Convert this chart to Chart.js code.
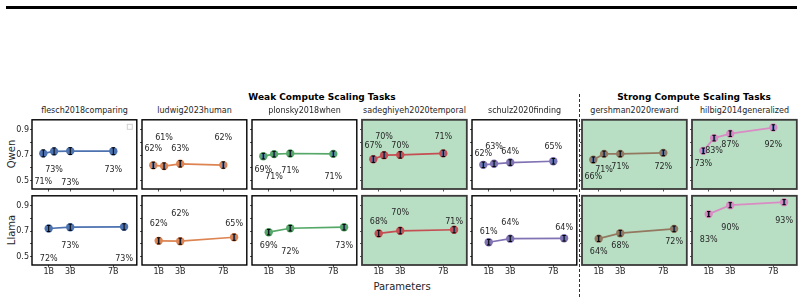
<!DOCTYPE html>
<html>
<head>
<meta charset="utf-8">
<script src="https://cdn.jsdelivr.net/npm/chart.js@4.4.0/dist/chart.umd.min.js"></script>
<style>
  body { margin: 0; background: #fff; font-family: 'DejaVu Sans', sans-serif; }
  #wrap { position: relative; width: 804px; height: 299px; overflow: hidden; background: #fff; }
  .txt { position: absolute; white-space: nowrap; color: #262626; transform: translate(-50%, -50%); line-height: 1; }
  canvas { position: absolute; }
</style>
</head>
<body>
<div id="wrap"></div>
<script>
// tasks shown left to right
const tasks = ['flesch2018comparing', 'ludwig2023human', 'plonsky2018when', 'sadeghiyeh2020temporal',
  'schulz2020finding', 'gershman2020reward', 'hilbig2014generalized'];
const highlighted = ['sadeghiyeh2020temporal', 'gershman2020reward', 'hilbig2014generalized'];
const models = ['Qwen', 'Llama'];

// model sizes (billions of parameters)
const qwenSizes = [0.5, 1.5, 3, 7];
const llamaSizes = [1, 3, 8];
const tickSizes = [1, 3, 7];
const tickLabels = ['1B', '3B', '7B'];
const yTicks = [0.5, 0.6, 0.7, 0.8, 0.9];

// scores per task
const qwenScores = [
  [0.714, 0.730, 0.732, 0.731],
  [0.620, 0.614, 0.632, 0.622],
  [0.692, 0.708, 0.713, 0.710],
  [0.668, 0.700, 0.702, 0.714],
  [0.624, 0.632, 0.642, 0.652],
  [0.664, 0.710, 0.710, 0.718],
  [0.734, 0.834, 0.869, 0.917],
];
const llamaScores = [
  [0.721, 0.731, 0.734],
  [0.624, 0.621, 0.652],
  [0.692, 0.723, 0.731],
  [0.682, 0.703, 0.711],
  [0.613, 0.641, 0.644],
  [0.641, 0.684, 0.718],
  [0.834, 0.904, 0.928],
];
const qwenErr = [0.027, 0.025, 0.022, 0.025, 0.022, 0.022, 0.022];
const llamaErr = [0.024, 0.024, 0.022, 0.024, 0.022, 0.022, 0.02];

// where the % labels sit relative to their point (px)
const qwenLabelDy = [
  [29, 18.6, 31.4, 19], [-16.7, -28, -15, -27.4], [14, 22.6, 17, 23], [-13.7, -18.7, -9, -16.3],
  [-11, -17, -11, -14.4], [17, 16, 12.7, 13.7], [13, 13, 11, 17],
];
const llamaLabelDy = [
  [30.3, 18.3, 32.3], [-16.6, -27.7, -13.3], [13.6, 24, 18.6], [-12, -18.3, -8.3],
  [-10.7, -16, -10.3], [13.4, 12.6, 13], [25.7, 22.3, 18.7],
];

const colors = ['#4c72b0', '#dd8452', '#55a868', '#c44e52', '#8172b3', '#937860', '#da8bc3'];
const textColor = '#262626';

const wrap = document.getElementById('wrap');

function addText(str, x, y, css) {
  const d = document.createElement('div');
  d.className = 'txt';
  d.textContent = str;
  d.style.left = x + 'px';
  d.style.top = y + 'px';
  Object.assign(d.style, css || {});
  wrap.appendChild(d);
}

// decorations
const bar = document.createElement('div');
Object.assign(bar.style, { position: 'absolute', left: '6px', top: '5.5px', width: '791px', height: '3.2px', background: '#000' });
wrap.appendChild(bar);

wrap.insertAdjacentHTML('beforeend',
  '<svg style="position:absolute;left:0;top:0" width="804" height="299">' +
  '<line x1="579.5" y1="94" x2="579.5" y2="297" stroke="#333" stroke-width="1" stroke-dasharray="3,2"/></svg>');

addText('Weak Compute Scaling Tasks', 322, 97, { fontSize: '9px', fontWeight: 'bold', color: '#000' });
addText('Strong Compute Scaling Tasks', 694, 97, { fontSize: '9px', fontWeight: 'bold', color: '#000' });
addText('Parameters', 402, 287, { fontSize: '10px' });
addText('Qwen', 12, 154, { fontSize: '10px', transform: 'translate(-50%, -50%) rotate(-90deg)' });
addText('Llama', 12, 230, { fontSize: '10px', transform: 'translate(-50%, -50%) rotate(-90deg)' });

const panelPlugin = {
  id: 'panel',
  beforeDraw(chart, args, opts) {
    const a = chart.chartArea, ctx = chart.ctx;
    if (opts.bg) {
      ctx.save();
      ctx.fillStyle = 'rgb(184, 223, 196)';
      ctx.fillRect(a.left, a.top, a.right - a.left, a.bottom - a.top);
      ctx.restore();
    }
  },
  afterDatasetsDraw(chart, args, opts) {
    const ctx = chart.ctx, xs = chart.scales.x, ys = chart.scales.y;
    const pts = chart.data.datasets[0].data;
    ctx.save();
    pts.forEach((p, i) => {
      const x = xs.getPixelForValue(p.x);
      const y = ys.getPixelForValue(p.y);
      const y1 = ys.getPixelForValue(p.y + opts.err);
      const y2 = ys.getPixelForValue(p.y - opts.err);
      ctx.strokeStyle = '#4c72b0';
      ctx.lineWidth = 2.4;
      ctx.beginPath(); ctx.moveTo(x, y - 2.8); ctx.lineTo(x, y + 2.8); ctx.stroke();
      ctx.strokeStyle = '#000';
      ctx.lineWidth = 1;
      ctx.beginPath();
      ctx.moveTo(x, y1); ctx.lineTo(x, y2);
      ctx.moveTo(x - 1.7, y1); ctx.lineTo(x + 1.7, y1);
      ctx.moveTo(x - 1.7, y2); ctx.lineTo(x + 1.7, y2);
      ctx.stroke();
    });
    ctx.font = '8px "DejaVu Sans"';
    ctx.fillStyle = textColor;
    ctx.textAlign = 'center';
    ctx.textBaseline = 'middle';
    pts.forEach((p, i) => {
      const x = xs.getPixelForValue(p.x);
      const y = ys.getPixelForValue(p.y);
      ctx.fillText(Math.round(p.y * 100) + '%', x, y + opts.dy[i]);
    });
    ctx.restore();
  },
  afterDraw(chart, args, opts) {
    const a = chart.chartArea, ctx = chart.ctx;
    ctx.save();
    if (opts.legendBox) {
      ctx.fillStyle = '#fff';
      ctx.strokeStyle = '#d0d0d0';
      ctx.lineWidth = 1;
      ctx.fillRect(a.right - 9.5, a.top + 4.5, 5, 5);
      ctx.strokeRect(a.right - 9.5, a.top + 4.5, 5, 5);
    }
    ctx.strokeStyle = opts.bg ? '#3a3a3a' : '#000';
    ctx.lineWidth = opts.bg ? 1.8 : 1.4;
    ctx.strokeRect(a.left, a.top, a.right - a.left, a.bottom - a.top);
    ctx.restore();
  }
};

const PW = 105, PH = 71, LEFT = 32, PAD = 4, BOTTOM = 16;
const rowTops = [118, 194];

models.forEach((model, r) => {
  const sizes = r === 0 ? qwenSizes : llamaSizes;
  const scores = r === 0 ? qwenScores : llamaScores;
  const errs = r === 0 ? qwenErr : llamaErr;
  const dys = r === 0 ? qwenLabelDy : llamaLabelDy;
  tasks.forEach((task, c) => {
    const px = 32 + c * 110;
    const py = rowTops[r];
    if (r === 0) addText(task, px + PW / 2, 111, { fontSize: '8px' });

    const cv = document.createElement('canvas');
    cv.style.left = (px - LEFT) + 'px';
    cv.style.top = (py - PAD) + 'px';
    cv.style.width = (PW + LEFT + PAD) + 'px';
    cv.style.height = (PH + PAD + BOTTOM) + 'px';
    cv.width = PW + LEFT + PAD;
    cv.height = PH + PAD + BOTTOM;
    wrap.appendChild(cv);

    new Chart(cv, {
      type: 'line',
      data: {
        datasets: [{
          data: sizes.map((s, i) => ({ x: s, y: scores[c][i] })),
          borderColor: colors[c],
          borderWidth: 1.7,
          pointRadius: 4.2,
          pointBackgroundColor: colors[c],
          pointBorderWidth: 0,
          tension: 0,
          clip: false,
        }]
      },
      options: {
        responsive: false,
        animation: false,
        events: [],
        layout: { padding: { top: PAD, right: PAD, left: 0, bottom: 0 } },
        plugins: {
          legend: { display: false },
          tooltip: { enabled: false },
          panel: {
            bg: highlighted.includes(task),
            err: errs[c],
            dy: dys[c],
            legendBox: r === 0 && c === 0,
          }
        },
        scales: {
          x: {
            type: 'linear',
            min: -0.55,
            max: 9.18,
            afterBuildTicks: (s) => { s.ticks = tickSizes.map(v => ({ value: v })); },
            afterFit: (s) => { s.height = BOTTOM; },
            border: { display: false },
            grid: { drawOnChartArea: false, drawTicks: true, tickLength: 2.5, color: textColor, lineWidth: 0.8 },
            ticks: {
              autoSkip: false, maxRotation: 0, padding: 0,
              font: { size: 8, family: 'DejaVu Sans' }, color: textColor,
              callback: (v) => r === 1 ? tickLabels[tickSizes.indexOf(v)] : '',
            }
          },
          y: {
            min: 0.434,
            max: 0.978,
            afterBuildTicks: (s) => { s.ticks = yTicks.map(v => ({ value: v })); },
            afterFit: (s) => { s.width = LEFT; },
            border: { display: false },
            grid: { drawOnChartArea: false, drawTicks: true, tickLength: 2, color: textColor, lineWidth: 0.8 },
            ticks: {
              padding: 1,
              font: { size: 8, family: 'DejaVu Sans' }, color: textColor,
              callback: (v) => (c === 0 && [0.5, 0.7, 0.9].includes(v)) ? v.toFixed(1) : '',
            }
          }
        }
      },
      plugins: [panelPlugin]
    });
  });
});
</script>
</body>
</html>
